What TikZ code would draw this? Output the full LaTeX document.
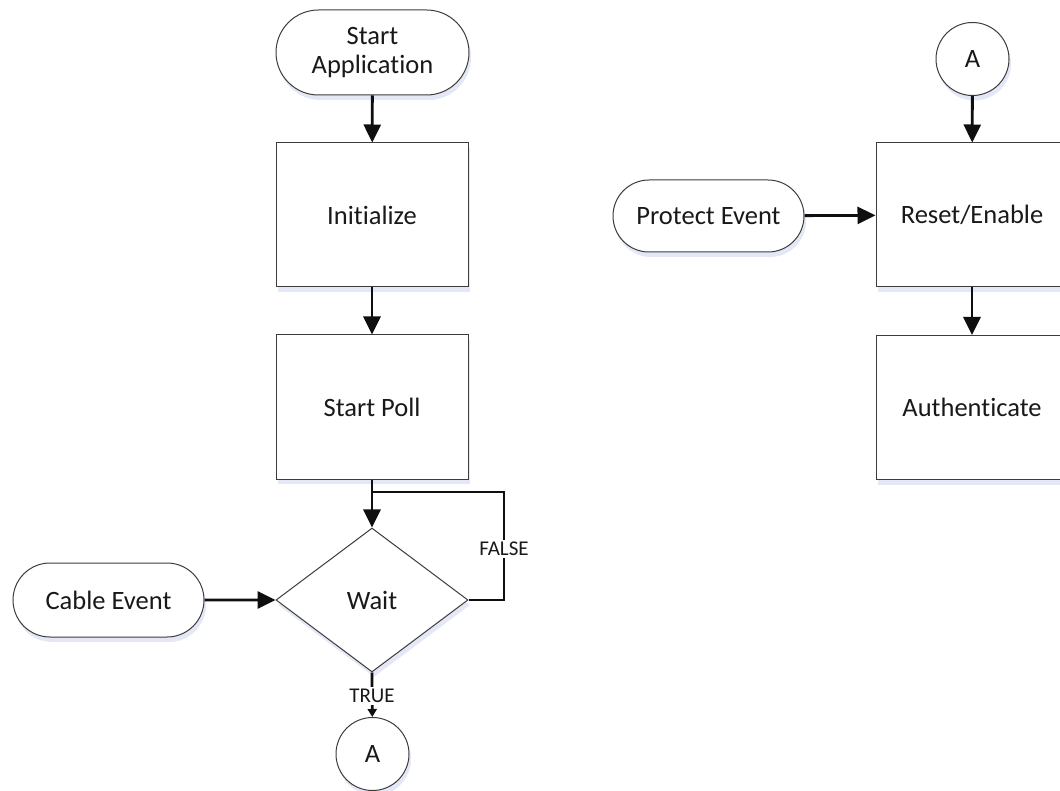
\documentclass[tikz,border=0pt]{standalone}
\usepackage{fontspec}
\setmainfont{Carlito}[Ligatures={NoCommon}]
\usetikzlibrary{shapes.geometric,shapes.misc,arrows.meta,shadows}
\definecolor{shadowc}{RGB}{228,231,246}
\definecolor{linec}{RGB}{15,15,15}
\definecolor{borderc}{RGB}{60,60,60}
\definecolor{textc}{RGB}{25,25,25}
\tikzset{
  base/.style={draw=borderc, line width=1pt, fill=white, text=textc, inner sep=0pt,
    font=\fontsize{26.5}{31}\selectfont, align=center,
    general shadow={shadow xshift=2pt, shadow yshift=-5pt, fill=shadowc}},
  procbox/.style={base, rectangle, minimum width=192pt, minimum height=144pt},
  pill/.style={base, rounded rectangle},
  decide/.style={base, diamond, aspect=1.333, minimum width=192pt, minimum height=144pt},
  conn/.style={base, circle, minimum size=73pt},
  flow/.style={draw=linec, line width=2.8pt, -{Triangle[length=18pt,width=17pt]}},
  loopline/.style={draw=linec, line width=2.8pt},
  lbl/.style={fill=white, text=textc, inner sep=2pt, font=\fontsize{21}{24}\selectfont},
}
\begin{document}
\begin{tikzpicture}[x=1pt,y=-1pt]
\useasboundingbox (0,0) rectangle (1060,791);
% left column
\node[pill, minimum width=193pt, minimum height=85pt] (start) at (372.5,52.5) {Start\\[-2pt]Application};
\node[procbox] (init) at (372,215) {Initialize};
\node[procbox] (poll) at (372,407) {Start Poll};
\node[decide] (wait) at (372,600) {Wait};
\node[pill, minimum width=191pt, minimum height=74pt] (cable) at (108.5,600) {Cable Event};
\node[conn] (a1) at (372.5,754) {A};
% right column
\node[conn] (a2) at (972.5,59) {A};
\node[procbox] (reset) at (972,215) {Reset/Enable};
\node[procbox] (auth) at (972,407.5) {Authenticate};
\node[pill, minimum width=191pt, minimum height=72pt] (protect) at (708.5,216) {Protect Event};
% connectors
\coordinate (fr) at (504,600);
\coordinate (fj) at (372,492);
\draw[flow] (start) -- (init);
\draw[flow] (init) -- (poll);
\draw[flow] (poll) -- (wait);
\draw[loopline] (wait.east) -- (fr) -- (fr |- fj) -- (fj);
\node[lbl] (flbl) at (504,549) {FALSE};
\draw[flow] (cable) -- (wait.west);
\draw[loopline, -{Triangle[length=8pt,width=9pt]}] (wait.south) -- (a1);
\node[lbl] (tlbl) at (372,696) {TRUE};
\draw[flow] (a2) -- (reset);
\draw[flow] (protect) -- (reset);
\draw[flow] (reset) -- (auth);
\end{tikzpicture}
\end{document}
